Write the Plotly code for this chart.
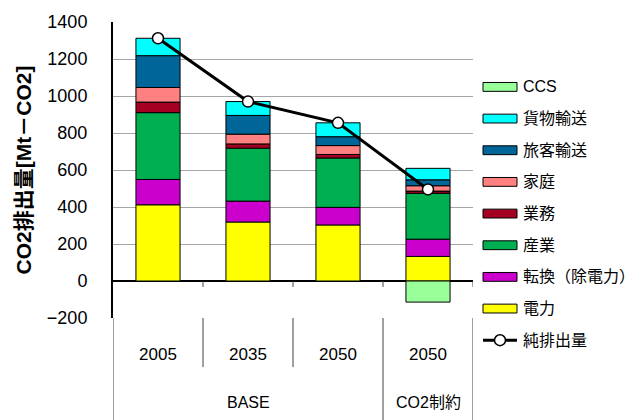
import plotly.graph_objects as go

# Scenario / year categories
years = ["2005", "2035", "2050", "2050"]
groups = ["BASE", "BASE", "BASE", "CO2制約"]

# Sector emissions [Mt-CO2]
power = [412, 319, 303, 133]          # 電力
conversion = [137, 113, 95, 93]       # 転換（除電力）
industry = [361, 286, 267, 248]       # 産業
commercial = [57, 23, 19, 12]         # 業務
residential = [79, 53, 48, 29]        # 家庭
passenger = [172, 101, 48, 32]        # 旅客輸送
freight = [94, 75, 75, 62]            # 貨物輸送
ccs = [None, None, None, -114]        # CCS (negative)
net = [1312, 970, 855, 495]           # 純排出量

series = [
    ("電力", power, "#FFFF00"),
    ("転換（除電力）", conversion, "#CC00CC"),
    ("産業", industry, "#00B050"),
    ("業務", commercial, "#A50021"),
    ("家庭", residential, "#FF8080"),
    ("旅客輸送", passenger, "#00669A"),
    ("貨物輸送", freight, "#00FFFF"),
    ("CCS", ccs, "#99FF99"),
]
net_name = "純排出量"

FONT = "Liberation Sans, Noto Sans CJK JP, sans-serif"
xs = list(range(len(years)))

fig = go.Figure()
for name, vals, col in series:
    fig.add_trace(go.Bar(
        x=xs, y=vals, name=name, width=0.49,
        marker=dict(color=col, line=dict(color="black", width=1)),
        showlegend=False,
    ))

fig.add_trace(go.Scatter(
    x=xs, y=net, name=net_name, mode="lines+markers",
    line=dict(color="black", width=3),
    marker=dict(size=11, color="white", line=dict(color="black", width=1.5)),
    cliponaxis=False, showlegend=False,
))

shapes = []
annotations = []

# Category frame below the plot area
n = len(years)
for i in range(n + 1):
    xb = i - 0.5
    group_edge = i == 0 or i == n or groups[i] != groups[i - 1]
    shapes.append(dict(type="line", xref="x", yref="paper", x0=xb, x1=xb,
                       y0=0, y1=-0.4 if group_edge else -0.166,
                       line=dict(color="#404040", width=1)))
    if i > 0:
        shapes.append(dict(type="line", xref="x", yref="y", x0=xb, x1=xb,
                           y0=0, y1=-32, line=dict(color="#404040", width=1)))

# Group labels
seen = []
for g in groups:
    if g not in seen:
        seen.append(g)
for g in seen:
    idx = [i for i, gg in enumerate(groups) if gg == g]
    annotations.append(dict(x=sum(idx) / len(idx), xref="x", y=-0.284, yref="paper",
                            text=g, showarrow=False, yanchor="middle",
                            font=dict(family=FONT, size=16, color="black")))

# Legend drawn beside the plot
legend_items = [(name, col) for name, vals, col in series][::-1]
x0, x1, xt = (483 - 113) / 360, (517 - 113) / 360, (521 - 113) / 360
ph, pw = 301, 360
for k, (name, col) in enumerate(legend_items + [(net_name, None)]):
    py = 83 + k * 32.2
    yc = (318 - py) / ph
    if col is not None:
        shapes.append(dict(type="rect", xref="paper", yref="paper",
                           x0=x0, x1=x1, y0=yc - 4.5 / ph, y1=yc + 4.5 / ph,
                           fillcolor=col, line=dict(color="black", width=1)))
    else:
        shapes.append(dict(type="line", xref="paper", yref="paper",
                           x0=x0, x1=x1, y0=yc, y1=yc,
                           line=dict(color="black", width=3)))
        xm = (x0 + x1) / 2
        shapes.append(dict(type="circle", xref="paper", yref="paper",
                           x0=xm - 5.5 / pw, x1=xm + 5.5 / pw,
                           y0=yc - 5.5 / ph, y1=yc + 5.5 / ph,
                           fillcolor="white", line=dict(color="black", width=1.5)))
    annotations.append(dict(x=xt, y=yc, xref="paper", yref="paper", text=name,
                            showarrow=False, xanchor="left", yanchor="middle",
                            font=dict(family=FONT, size=16, color="black")))

fig.update_layout(
    barmode="relative",
    width=638, height=420, autosize=False,
    margin=dict(l=113, r=165, t=17, b=102),
    paper_bgcolor="white", plot_bgcolor="white",
    font=dict(family=FONT, size=16, color="black"),
    shapes=shapes, annotations=annotations,
    xaxis=dict(
        range=[-0.5, n - 0.5], tickvals=xs, ticktext=years,
        showgrid=False, zeroline=False, showline=False, ticks="",
        ticklabelstandoff=24, tickfont=dict(size=17),
    ),
    yaxis=dict(
        range=[-200, 1400], dtick=200, tickvals=list(range(-200, 1401, 200)),
        showgrid=True, gridcolor="#A6A6A6", gridwidth=1,
        zeroline=True, zerolinecolor="black", zerolinewidth=2,
        showline=True, linecolor="black", linewidth=2,
        ticks="", ticklabelstandoff=20, tickfont=dict(size=18),
        title=dict(text="CO2排出量[Mt－CO2]", standoff=10,
                   font=dict(family=FONT, size=21, weight="bold")),
    ),
)

fig.write_html("out.html")
